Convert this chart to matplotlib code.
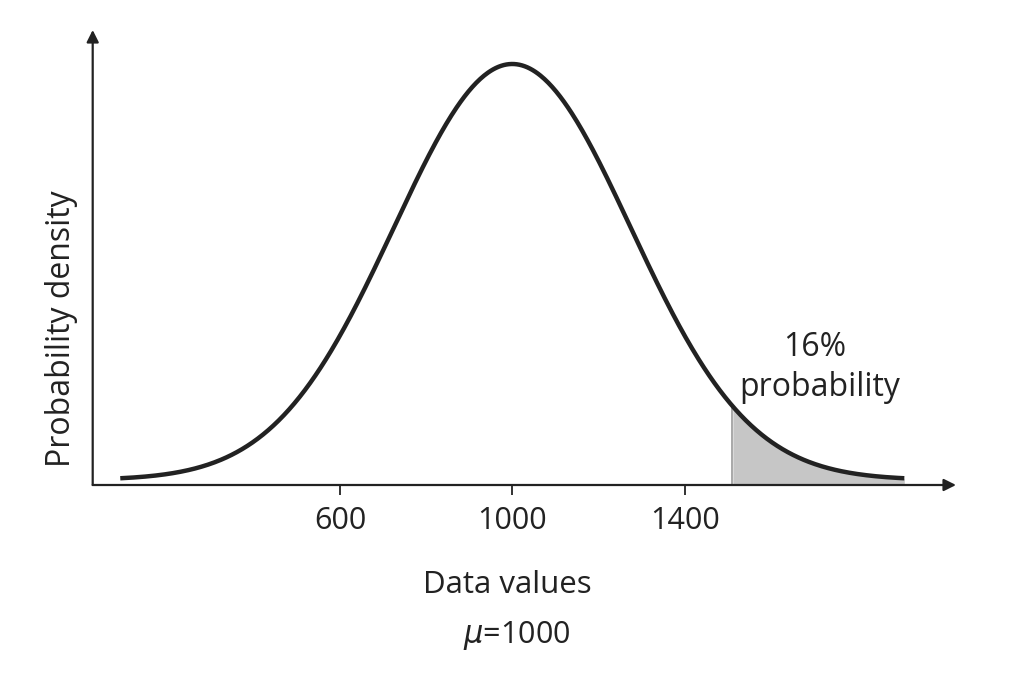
import numpy as np
import matplotlib
matplotlib.use("Agg")
import matplotlib.pyplot as plt

# ---- data ----
mean = 1000
std_dev = 275
curve_start = 90
curve_end = 1910
shade_start = 1510
tick_values = [600, 1000, 1400]
tick_labels = ["600", "1000", "1400"]
x_label = "Data values"
y_label = "Probability density"
mu_label = "=1000"
shade_line1 = "16%"
shade_line2 = "probability"

plt.rcParams['font.family'] = ['Open Sans', 'DejaVu Sans']
ink = "#222222"

fig = plt.figure(figsize=(10.24, 6.83), dpi=100)
ax = fig.add_axes([92.7 / 1024, 1 - 485 / 683, (956 - 92.7) / 1024, (485 - 30) / 683])

x = np.linspace(curve_start, curve_end, 600)
pdf = np.exp(-0.5 * ((x - mean) / std_dev) ** 2) / (std_dev * np.sqrt(2 * np.pi))
peak = pdf.max()

ybot = -5 / 416 * peak
ax.set_ylim(ybot, (455 - 5) / 416 * peak)
ax.set_xlim(26, 2030)

mask = x >= shade_start
ax.fill_between(x[mask], ybot, pdf[mask], color="#c6c6c6", lw=0, zorder=1)
ax.plot([shade_start, shade_start], [ybot, pdf[mask][0]], color="#9a9a9a", lw=1.2, zorder=1)
ax.plot(x, pdf, color=ink, lw=3.2, solid_capstyle="butt", zorder=3)

for s in ax.spines.values():
    s.set_visible(False)

ax.annotate('', xy=(1, 0), xytext=(0, 0), xycoords='axes fraction',
            arrowprops=dict(arrowstyle='-|>', lw=1.6, color=ink, mutation_scale=18, shrinkA=0, shrinkB=0))
ax.annotate('', xy=(0, 1), xytext=(0, 0), xycoords='axes fraction',
            arrowprops=dict(arrowstyle='-|>', lw=1.6, color=ink, mutation_scale=18, shrinkA=0, shrinkB=0))

ax.set_xticks(tick_values)
ax.set_xticklabels(tick_labels)
ax.set_yticks([])
ax.tick_params(axis='x', direction='out', length=7, width=1.3, color=ink,
               labelsize=22, labelcolor=ink, pad=8)

def fx(px):
    return px / 1024

def fy(py):
    return 1 - py / 683

fig.text(fx(507), fy(585), x_label, fontsize=22.5, color=ink, ha='center', va='center')
fig.text(fx(62), fy(329), y_label, fontsize=23, color=ink, ha='center', va='center', rotation=90)
fig.text(fx(517), fy(635), r'$\mu$' + mu_label, fontsize=22, color=ink, ha='center', va='center')
fig.text(fx(815), fy(348), shade_line1, fontsize=23, color=ink, ha='center', va='center')
fig.text(fx(820), fy(388), shade_line2, fontsize=23, color=ink, ha='center', va='center')

fig.savefig("out.png", dpi=100, facecolor="white")
